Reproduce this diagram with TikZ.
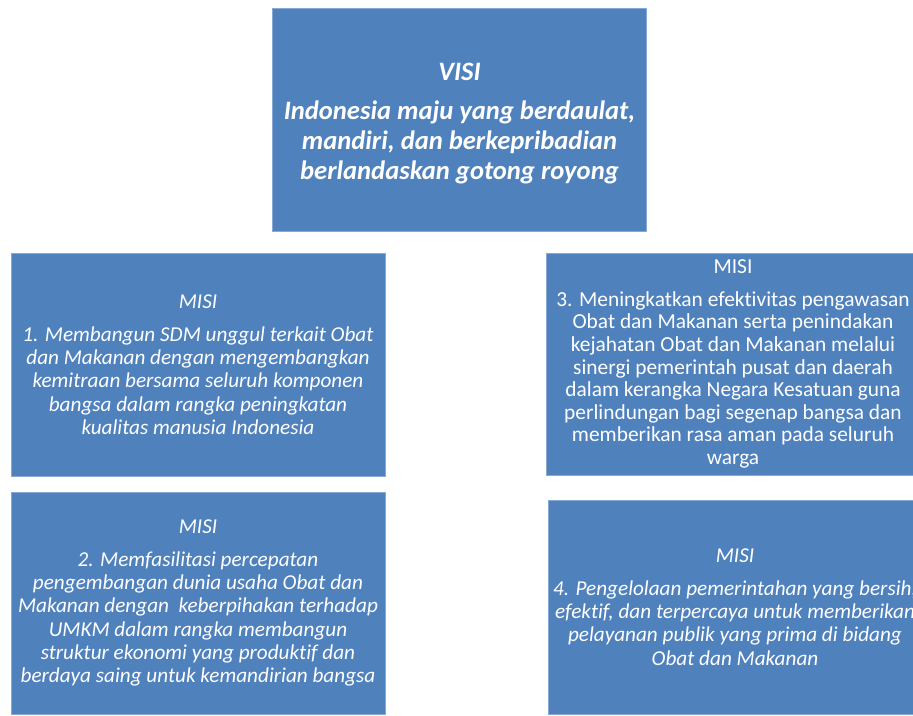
\documentclass[tikz,border=0pt]{standalone}
\usepackage{fontspec}
\setmainfont[Ligatures={NoCommon}]{Carlito}
\definecolor{boxblue}{HTML}{4F81BD}
\definecolor{boxedge}{HTML}{86A9D6}
\tikzset{
  box/.style={fill=boxblue, draw=boxedge, line width=1pt, text=white, align=center, inner sep=0pt},
  visitext/.style={font=\fontsize{26.6}{30}\selectfont\bfseries\itshape},
  misitext/.style={font=\fontsize{21.2}{23.3}\selectfont\itshape},
  misiup/.style={font=\fontsize{21.4}{22.6}\selectfont}
}
\begin{document}
\begin{tikzpicture}[x=1pt,y=-1pt]
\useasboundingbox (0,0) rectangle (913,715);
\fill[white] (0,0) rectangle (913,715);
\clip (0,0) rectangle (913,715);
\node[box, minimum width=374pt, minimum height=223pt] (visi) at (459.5,119.5) {};
\node[visitext, text=white, align=center, inner sep=0pt] (visit) at (459.5,123.5)
  {VISI\\[9pt]Indonesia maju yang berdaulat,\\mandiri, dan berkepribadian\\berlandaskan gotong royong};
\node[box, misitext, minimum width=374pt, minimum height=223pt] (misi1) at (198,364.5)
  {MISI\\[9.7pt]1. Membangun SDM unggul terkait Obat\\dan Makanan dengan mengembangkan\\kemitraan bersama seluruh komponen\\bangsa dalam rangka peningkatan\\kualitas manusia Indonesia};
\node[box, misiup, minimum width=374pt, minimum height=222pt] (misi3) at (733,364)
  {MISI\\[10pt]3. Meningkatkan efektivitas pengawasan\\Obat dan Makanan serta penindakan\\kejahatan Obat dan Makanan melalui\\sinergi pemerintah pusat dan daerah\\dalam kerangka Negara Kesatuan guna\\perlindungan bagi segenap bangsa dan\\memberikan rasa aman pada seluruh\\warga};
\node[box, misitext, minimum width=374pt, minimum height=222pt] (misi2) at (198,603)
  {MISI\\[9.7pt]2. Memfasilitasi percepatan\\pengembangan dunia usaha Obat dan\\Makanan dengan~ keberpihakan terhadap\\UMKM dalam rangka membangun\\struktur ekonomi yang produktif dan\\berdaya saing untuk kemandirian bangsa};
\node[box, misitext, minimum width=374pt, minimum height=214pt] (misi4) at (735,607)
  {MISI\\[9.7pt]4. Pengelolaan pemerintahan yang bersih,\\efektif, dan terpercaya untuk memberikan\\pelayanan publik yang prima di bidang\\Obat dan Makanan};
\end{tikzpicture}
\end{document}
